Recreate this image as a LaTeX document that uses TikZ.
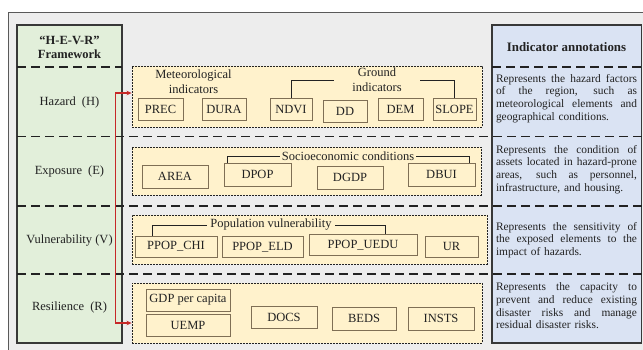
\documentclass[tikz,border=0pt]{standalone}
\usepackage{fontspec}
\setmainfont{Liberation Serif}
\usetikzlibrary{arrows.meta}

\definecolor{bggray}{HTML}{EDEDED}
\definecolor{colgreen}{HTML}{E2EFDA}
\definecolor{colblue}{HTML}{DAE3F3}
\definecolor{grpyellow}{HTML}{FFF2CC}
\definecolor{boxedge}{HTML}{7F6F55}
\definecolor{inkdark}{HTML}{222222}
\definecolor{arrowred}{HTML}{C62828}

\newcommand\fsmain{\fontsize{12.5}{15}\selectfont}
% one justified line of an annotation paragraph
\newcommand\jline[1]{\makebox[141pt][s]{\spaceskip=.25em plus 3em\relax #1}\\}

\begin{document}
\begin{tikzpicture}[x=1pt,y=-1pt,
  every node/.style={font=\fsmain, text=inkdark, inner sep=0pt},
  column/.style={draw=inkdark!90, line width=1.1pt},
  rowsep/.style={draw=inkdark, line width=1.5pt, dash pattern=on 9pt off 5pt},
  group/.style={draw=inkdark, line width=0.9pt, dash pattern=on 2pt off 1pt, fill=grpyellow},
  ibox/.style={draw=boxedge, line width=0.9pt, fill=grpyellow},
  bracket/.style={draw=inkdark, line width=0.8pt},
  note/.style={font=\fontsize{11.4}{12.6}\selectfont, align=left, text width=141pt},
  link/.style={draw=arrowred, line width=1.1pt,
    {Stealth[length=5pt,width=4.5pt]}-{Stealth[length=5pt,width=4.5pt]}}
]
\clip (0,0) rectangle (643,349);
\fill[white] (0,0) rectangle (643,349);
\draw[fill=bggray, draw=gray!70!black, line width=0.8pt] (8,12) rectangle (700,400);

% framework column and annotation column
\draw[column, fill=colgreen] (17,25) rectangle (122,343);
\draw[column, fill=colblue] (492,25) rectangle (641.5,343);
\draw[rowsep] (17,67) -- (122,67);
\draw[rowsep] (492,67) -- (641.5,67);
\draw[rowsep] (17,136.5) -- (641.5,136.5);
\draw[rowsep] (17,206) -- (641.5,206);
\draw[rowsep] (17,274) -- (641.5,274);

% column headers
\node[font=\bfseries\fsmain, align=center] (fw) at (69.5,47) {“H-E-V-R”\\[-1pt]Framework};
\node[font=\bfseries\fontsize{12.9}{15}\selectfont] (ia) at (566.5,47) {Indicator annotations};

% dimension labels
\node (lh) at (69.5,102) {Hazard\hspace{3pt} (H)};
\node (le) at (69.5,171) {Exposure\hspace{3pt} (E)};
\node (lv) at (69.5,241) {Vulnerability (V)};
\node (lr) at (69.5,307) {Resilience\hspace{3pt} (R)};

% indicator groups
\node[group, minimum width=350, minimum height=61] (hz) at (307,96.5) {};
\node[group, minimum width=349, minimum height=48] (ex) at (306.5,171) {};
\node[group, minimum width=355, minimum height=49] (vu) at (309.5,239.5) {};
\node[group, minimum width=350, minimum height=60] (rs) at (307,313) {};

% hazard indicators
\node[align=center] (met) at (193.5,81.5) {Meteorological\\indicators};
\node[align=center, inner xsep=18pt] (gnd) at (377,80.2) {Ground\\indicators};
\node[ibox, minimum width=45, minimum height=22] (prec) at (160.5,109) {PREC};
\node[ibox, minimum width=44, minimum height=22] (dura) at (224,109) {DURA};
\node[ibox, minimum width=42, minimum height=22] (ndvi) at (291,109) {NDVI};
\node[ibox, minimum width=44, minimum height=22] (dd) at (345,111) {DD};
\node[ibox, minimum width=45, minimum height=22] (dem) at (400.5,109) {DEM};
\node[ibox, minimum width=43, minimum height=22] (slope) at (454.5,109) {SLOPE};
\draw[bracket] (ndvi.north) |- (gnd.west);
\draw[bracket] (slope.north) |- (gnd.east);

% exposure indicators
\node[inner xsep=2pt] (soc) at (348,156.5) {Socioeconomic conditions};
\node[ibox, minimum width=66, minimum height=23] (area) at (175,176.5) {AREA};
\node[ibox, minimum width=67, minimum height=23] (dpop) at (257.5,174.5) {DPOP};
\node[ibox, minimum width=66, minimum height=23] (dgdp) at (350,177.5) {DGDP};
\node[ibox, minimum width=67, minimum height=23] (dbui) at (441.5,174.5) {DBUI};
\draw[bracket] ([xshift=4pt]dpop.north west) |- (soc.west);
\draw[bracket] ([xshift=-6pt]dbui.north east) |- (soc.east);

% vulnerability indicators
\node[inner xsep=3pt] (pop) at (271,225) {Population vulnerability};
\node[ibox, minimum width=82, minimum height=21] (pchi) at (176,246.5) {PPOP\_CHI};
\node[ibox, minimum width=81, minimum height=21] (peld) at (262.5,247) {PPOP\_ELD};
\node[ibox, minimum width=108, minimum height=21] (puedu) at (363,245) {PPOP\_UEDU};
\node[ibox, minimum width=53, minimum height=21] (ur) at (451.5,246.5) {UR};
\draw[bracket] ([xshift=18pt]pchi.north west) |- (pop.west);
\draw[bracket] ([xshift=-32pt]puedu.north east) |- (pop.east);

% resilience indicators
\node[ibox, minimum width=84, minimum height=22] (gdp) at (188,300) {GDP per capita};
\node[ibox, minimum width=84, minimum height=22] (uemp) at (188,325) {UEMP};
\node[ibox, minimum width=66, minimum height=22] (docs) at (284,317.5) {DOCS};
\node[ibox, minimum width=64, minimum height=23] (beds) at (364,318.5) {BEDS};
\node[ibox, minimum width=66, minimum height=23] (insts) at (441,318.5) {INSTS};

% link spanning the four dimensions
\draw[link] ([yshift=3.5pt]hz.west) -- ++(-16,0) |- ([yshift=-10pt]rs.west);

% annotations
\node[note] (nh) at (566.5,98.5) {\jline{Represents the hazard factors}\jline{of the region, such as}\jline{meteorological elements and}geographical conditions.};
\node[note] (ne) at (566.5,169.5) {\jline{Represents the condition of}\jline{assets located in hazard-prone}\jline{areas, such as personnel,}infrastructure, and housing.};
\node[note] (nv) at (566.5,240) {\jline{Represents the sensitivity of}\jline{the exposed elements to the}impact of hazards.};
\node[note] (nr) at (566.5,306) {\jline{Represents the capacity to}\jline{prevent and reduce existing}\jline{disaster risks and manage}residual disaster risks.};
\end{tikzpicture}
\end{document}
